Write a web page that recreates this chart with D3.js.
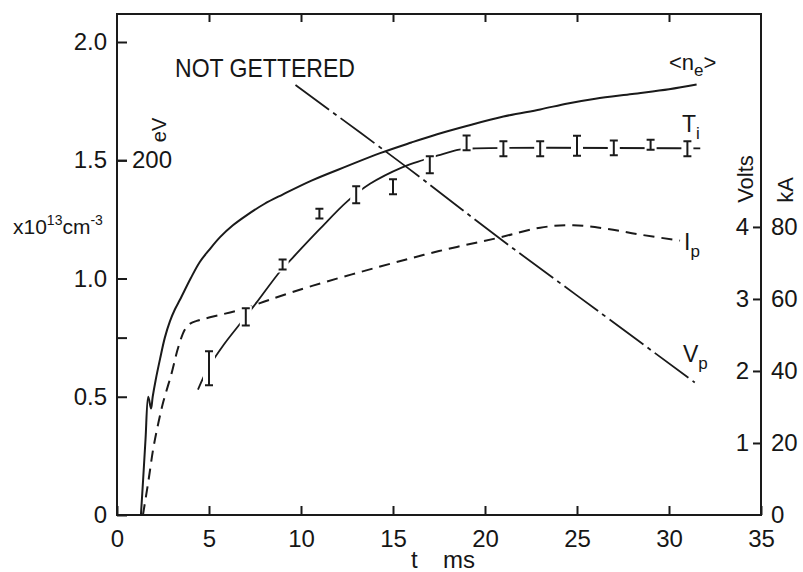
<!DOCTYPE html>
<html>
<head>
<meta charset="utf-8">
<script src="https://cdn.jsdelivr.net/npm/d3@7"></script>
<style>
  body { margin: 0; background: #fff; }
  text { font-family: 'Liberation Sans', Arial, sans-serif; fill: #161616; }
</style>
</head>
<body>
<script>
// <n_e>, x10^13 cm^-3
const neTime    = [1.30, 1.42, 1.55, 1.70, 1.85, 1.94, 2.10, 2.34, 2.60, 2.88, 3.15, 3.42, 4.00, 4.50, 5.00, 5.60, 6.30, 7.00, 8.00, 9.00, 10.6, 12.5, 14.3, 16.0, 17.4, 19.0, 21.0, 23.0, 24.5, 26.0, 28.0, 30.0, 31.5];
const neDensity = [0.00, 0.15, 0.32, 0.50, 0.45, 0.50, 0.57, 0.66, 0.75, 0.82, 0.87, 0.91, 1.00, 1.07, 1.12, 1.175, 1.225, 1.265, 1.315, 1.355, 1.415, 1.475, 1.53, 1.575, 1.61, 1.645, 1.685, 1.715, 1.74, 1.76, 1.78, 1.80, 1.82];

// I_p, kA
const ipTime    = [1.41, 1.70, 1.97, 2.25, 2.52, 2.97, 3.33, 3.70, 4.00, 4.33, 5.05, 6.85, 8.3, 10.65, 14.3, 17.5, 20.65, 23.0, 24.8, 26.6, 28.4, 30.6];
const ipCurrent = [0, 9.2, 18.4, 25.6, 31.5, 39.4, 46.6, 51.6, 53.2, 53.9, 54.9, 57.2, 59.8, 63.7, 69.0, 73.3, 76.9, 79.8, 80.5, 79.5, 77.9, 76.2];

// V_p, Volts
const vpTime  = [9.7, 15.8, 20.7, 26.0, 31.4];
const vpVolts = [5.97, 4.82, 3.86, 2.86, 1.84];

// T_i, eV: drawn curve and measured points with error bars
const tiFitTime = [4.4, 4.95, 5.8, 6.7, 7.6, 8.86, 9.57, 11.0, 12.5, 13.75, 15.5, 16.6, 17.45, 18.6, 19.5, 31.7];
const tiFitEv   = [70.7, 82.7, 96, 108, 120, 137.3, 145.3, 161, 176.7, 186.7, 196, 200, 202.7, 206, 206.7, 206.7];
const tiTime = [5, 7, 9, 11, 13, 15, 17, 19, 21, 23, 25, 27, 29, 31];
const tiEv   = [82.7, 111.7, 141.2, 169.9, 180.6, 185.1, 197.5, 209.8, 206.5, 206.5, 208.2, 207.0, 208.7, 206.5];
const tiErr  = [9.6, 4.8, 2.8, 2.8, 4.8, 4.2, 4.8, 4.2, 4.2, 4.2, 5.6, 4.2, 2.8, 4.2];

const timeTicks    = [0, 5, 10, 15, 20, 25, 30, 35];
const densityTicks = [0, 0.5, 0.75, 1, 1.5, 2];
const evTicks      = [200];
const voltTicks    = [1, 2, 3, 4];
const kaTicks      = [0, 20, 40, 60, 80];

const zip = (a, b) => a.map((v, i) => [v, b[i]]);

const drawChart = () => {
  const svgWidth = 803;
  const svgHeight = 572;
  const left = 117, right = 761, top = 14, bottom = 515;
  const ink = '#1a1a1a';

  const svg = d3.select('body')
                .append('svg')
                .attr('width', svgWidth)
                .attr('height', svgHeight);

  // Scales
  const x = d3.scaleLinear().domain([0, 35]).range([left, right]);
  const y = d3.scaleLinear().domain([0, 2]).range([bottom, 42]);
  const yEv = d3.scaleLinear().domain([0, 200]).range([y(0), y(1.5)]);
  const yVolt = d3.scaleLinear().domain([0, 4]).range([y(0), y(1.218)]);
  const yKa = d3.scaleLinear().domain([0, 80]).range([y(0), y(1.218)]);

  const styleAxis = (g, size) => {
    g.select('.domain').remove();
    g.selectAll('line').attr('stroke', ink).attr('stroke-width', 2);
    g.selectAll('text').attr('font-size', size).attr('fill', '#161616')
     .style('font-family', "'Liberation Sans', Arial, sans-serif");
  };

  // Axes
  svg.append('g')
     .attr('transform', 'translate(0,' + bottom + ')')
     .call(d3.axisBottom(x).tickValues(timeTicks).tickSize(-9).tickPadding(15))
     .call(g => styleAxis(g, 24));

  svg.append('g')
     .attr('transform', 'translate(0,' + top + ')')
     .call(d3.axisTop(x).tickValues(timeTicks.slice(1, -1)).tickSize(-8).tickFormat(''))
     .call(g => styleAxis(g, 24));

  svg.append('g')
     .attr('transform', 'translate(' + left + ',0)')
     .call(d3.axisLeft(y).tickValues(densityTicks).tickSize(-10).tickPadding(10)
             .tickFormat(d => d === 0 ? '0' : d === 0.75 ? '' : d3.format('.1f')(d)))
     .call(g => styleAxis(g, 24));

  svg.append('g')
     .attr('transform', 'translate(' + left + ',0)')
     .call(d3.axisRight(yEv).tickValues(evTicks).tickSize(10).tickPadding(5))
     .call(g => styleAxis(g, 24));

  svg.append('g')
     .attr('transform', 'translate(' + right + ',0)')
     .call(d3.axisLeft(yVolt).tickValues(voltTicks).tickSize(8).tickPadding(4).tickFormat(d3.format('d')))
     .call(g => styleAxis(g, 24));

  svg.append('g')
     .attr('transform', 'translate(' + right + ',0)')
     .call(d3.axisRight(yKa).tickValues(kaTicks).tickSize(0).tickPadding(10).tickFormat(d3.format('d')))
     .call(g => styleAxis(g, 24));

  // Frame
  svg.append('rect')
     .attr('x', left).attr('y', top)
     .attr('width', right - left).attr('height', bottom - top)
     .attr('fill', 'none').attr('stroke', ink).attr('stroke-width', 2);

  const line = (scale) => d3.line()
                            .x(d => x(d[0]))
                            .y(d => scale(d[1]))
                            .curve(d3.curveCatmullRom.alpha(0.5));

  // Curves
  svg.append('path')
     .datum(zip(neTime, neDensity))
     .attr('d', line(y))
     .attr('fill', 'none').attr('stroke', ink).attr('stroke-width', 2);

  svg.append('path')
     .datum(zip(ipTime, ipCurrent))
     .attr('d', line(yKa))
     .attr('fill', 'none').attr('stroke', ink).attr('stroke-width', 2)
     .attr('stroke-dasharray', '11,7');

  svg.append('path')
     .datum(zip(vpTime, vpVolts))
     .attr('d', line(yVolt))
     .attr('fill', 'none').attr('stroke', ink).attr('stroke-width', 1.8)
     .attr('stroke-dasharray', '42,5,4,5');

  svg.append('path')
     .datum(zip(tiFitTime, tiFitEv))
     .attr('d', line(yEv))
     .attr('fill', 'none').attr('stroke', ink).attr('stroke-width', 1.8);

  // T_i error bars, with a white gap cut into the curve
  const bars = svg.selectAll('g.bar')
                  .data(tiTime.map((t, i) => ({ t: t, v: tiEv[i], e: tiErr[i] })))
                  .enter()
                  .append('g')
                  .attr('class', 'bar');

  bars.append('rect')
      .attr('x', d => x(d.t) - 6)
      .attr('y', d => yEv(d.v + d.e) - 3)
      .attr('width', 12)
      .attr('height', d => yEv(d.v - d.e) - yEv(d.v + d.e) + 6)
      .attr('fill', '#fff');

  bars.append('path')
      .attr('d', d => {
        const cx = x(d.t), y1 = yEv(d.v + d.e), y2 = yEv(d.v - d.e);
        return 'M' + cx + ',' + y1 + 'V' + y2 +
               'M' + (cx - 4) + ',' + y1 + 'H' + (cx + 4) +
               'M' + (cx - 4) + ',' + y2 + 'H' + (cx + 4);
      })
      .attr('fill', 'none').attr('stroke', ink).attr('stroke-width', 2);

  // Labels
  const label = (px, py, size) => svg.append('text').attr('x', px).attr('y', py).attr('font-size', size);

  label(175, 77, 26).text('NOT GETTERED')
    .attr('textLength', 180).attr('lengthAdjust', 'spacingAndGlyphs');

  const ne = label(669, 70, 22);
  ne.append('tspan').text('<n');
  ne.append('tspan').attr('font-size', 17).attr('dy', 6).text('e');
  ne.append('tspan').attr('dy', -6).text('>');

  const sub = (px, py, main, s) => {
    const t = label(px, py, 23);
    t.append('tspan').text(main);
    t.append('tspan').attr('font-size', 17).attr('dy', 7).text(s);
  };
  sub(682, 132, 'T', 'i');
  sub(684, 250, 'I', 'p');
  sub(683, 362, 'V', 'p');

  const unit = label(13, 234, 21);
  unit.append('tspan').text('x10');
  unit.append('tspan').attr('font-size', 14).attr('dy', -9).text('13');
  unit.append('tspan').attr('dy', 9).text('cm');
  unit.append('tspan').attr('font-size', 14).attr('dy', -9).text('-3');

  svg.append('text')
     .attr('transform', 'translate(166,130) rotate(-90)')
     .attr('text-anchor', 'middle').attr('font-size', 20).text('eV');

  svg.append('text')
     .attr('transform', 'translate(753,179) rotate(-90)')
     .attr('text-anchor', 'middle').attr('font-size', 22).text('Volts');

  svg.append('text')
     .attr('transform', 'translate(793,190) rotate(-90)')
     .attr('text-anchor', 'middle').attr('font-size', 22).text('kA');

  label(411, 568, 24).text('t');
  label(443, 568, 24).text('ms');
};

drawChart();
</script>
</body>
</html>
